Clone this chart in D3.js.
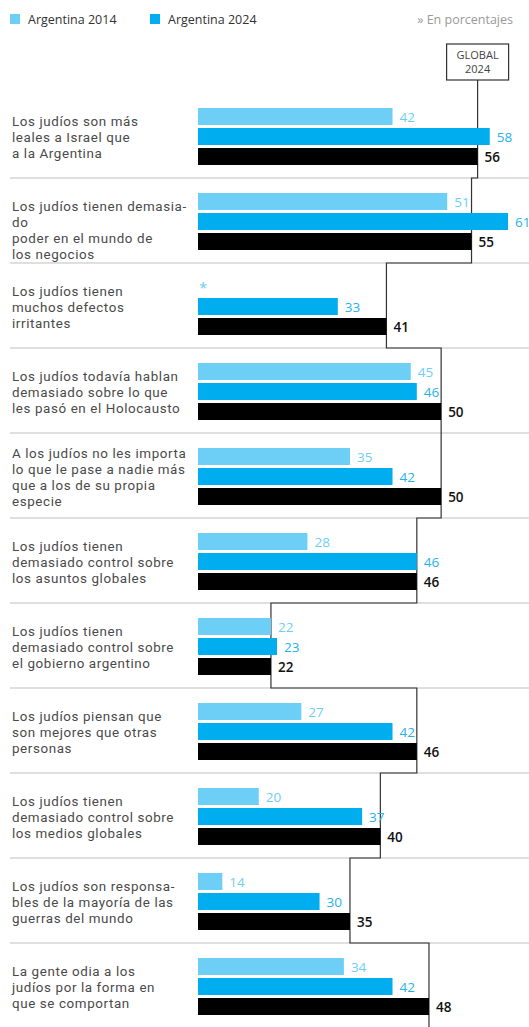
<!DOCTYPE html>
<html>
<head>
<meta charset="utf-8">
<script src="https://cdn.jsdelivr.net/npm/d3@7"></script>
<style>
  html, body { margin: 0; padding: 0; background: #fff; }
  svg { display: block; font-family: "Open Sans", "Noto Sans", sans-serif; }
</style>
</head>
<body>
<svg id="chart" width="529" height="1027"></svg>
<script>
const categories = [
  "Los judíos son más\nleales a Israel que\na la Argentina",
  "Los judíos tienen demasia-\ndo\npoder en el mundo de\nlos negocios",
  "Los judíos tienen\nmuchos defectos\nirritantes",
  "Los judíos todavía hablan\ndemasiado sobre lo que\nles pasó en el Holocausto",
  "A los judíos no les importa\nlo que le pase a nadie más\nque a los de su propia\nespecie",
  "Los judíos tienen\ndemasiado control sobre\nlos asuntos globales",
  "Los judíos tienen\ndemasiado control sobre\nel gobierno argentino",
  "Los judíos piensan que\nson mejores que otras\npersonas",
  "Los judíos tienen\ndemasiado control sobre\nlos medios globales",
  "Los judíos son responsa-\nbles de la mayoría de las\nguerras del mundo",
  "La gente odia a los\njudíos por la forma en\nque se comportan"
];
const argentina2014 = [42, 51, null, 45, 35, 28, 22, 27, 20, 14, 34];
const argentina2024 = [58, 61, 33, 46, 42, 46, 23, 42, 37, 30, 42];
const global2024    = [56, 55, 41, 50, 50, 46, 22, 46, 40, 35, 48];
const seriesNames = ["Argentina 2014", "Argentina 2024", "Global 2024"];
const legendLabels = ["Argentina 2014", "Argentina 2024"];
const noteText = "» En porcentajes";
const globalBoxLines = ["GLOBAL", "2024"];

const colors = { "Argentina 2014": "#6dcff6", "Argentina 2024": "#00aeef", "Global 2024": "#000000" };
const labelColors = { "Argentina 2014": "#6dcff6", "Argentina 2024": "#1fb3ea", "Global 2024": "#111111" };

const svg = d3.select("#chart");
const W = 529;

const rows = categories.map((c, i) => ({
  label: c, i,
  values: [argentina2014[i], argentina2024[i], global2024[i]]
}));

const y = d3.scaleBand().domain(d3.range(categories.length)).range([93, 93 + 85 * categories.length]).paddingInner(0);
const yi = d3.scaleBand().domain(seriesNames).range([15, 72]).paddingInner(0.15);
const x = d3.scaleLinear().domain([10, 61]).range([198, 508]);

// Legend
const leg = svg.append("g");
legendLabels.forEach((name, k) => {
  const gx = 10 + k * 140;
  leg.append("rect").attr("x", gx).attr("y", 14).attr("width", 10).attr("height", 10).attr("fill", colors[name]);
  leg.append("text").attr("x", gx + 18).attr("y", 23.5).attr("font-size", 12.5).attr("fill", "#333")
    .text(name);
});
svg.append("text").attr("x", 513).attr("y", 24).attr("text-anchor", "end").attr("font-size", 12.5)
  .attr("fill", "#9a9a9a").text(noteText);

// Separators
svg.append("g").selectAll("line").data(rows.slice(0, -1)).join("line")
  .attr("x1", 10).attr("x2", W)
  .attr("y1", d => y(d.i) + y.bandwidth()).attr("y2", d => y(d.i) + y.bandwidth())
  .attr("stroke", "#d4d4d4").attr("stroke-width", 1.5);

// Global step line
const boxCx = x(global2024[0]);
const boxTop = 44, boxBottom = 80;
const pts = [[boxCx, boxBottom]];
rows.forEach(r => {
  pts.push([x(global2024[r.i]), y(r.i)]);
  pts.push([x(global2024[r.i]), y(r.i) + y.bandwidth()]);
});
svg.append("path").attr("d", d3.line()(pts)).attr("fill", "none").attr("stroke", "#333").attr("stroke-width", 1.2);

// Global box
svg.append("rect").attr("x", boxCx - 31).attr("y", boxTop).attr("width", 62).attr("height", boxBottom - boxTop)
  .attr("fill", "#fff").attr("stroke", "#333").attr("stroke-width", 1.2);
globalBoxLines.forEach((t, k) => {
  svg.append("text").attr("x", boxCx).attr("y", 59 + k * 14).attr("text-anchor", "middle")
    .attr("font-size", 11).attr("fill", "#444").text(t);
});

// Rows
const g = svg.append("g").selectAll("g").data(rows).join("g")
  .attr("transform", d => `translate(0,${y(d.i)})`);

// Labels: one text element per line
g.each(function(d) {
  const lines = d.label.split("\n");
  const nCenter = lines.filter(l => l.length > 3).length;
  const first = y.bandwidth() / 2 - (nCenter - 1) * 8 + 6;
  const sel = d3.select(this);
  lines.forEach((l, k) => {
    sel.append("text").attr("x", 12).attr("y", first + k * 16)
      .attr("font-family", "Roboto, 'Open Sans', sans-serif")
      .attr("font-size", 13.4).attr("letter-spacing", 0.6).attr("fill", "#4a4a4a").text(l);
  });
});

// Bars
g.each(function(d) {
  const sel = d3.select(this);
  seriesNames.forEach((s, k) => {
    const v = d.values[k];
    const by = yi(s);
    if (v == null) {
      sel.append("text").attr("x", x.range()[0] + 1).attr("y", by + 15).attr("font-size", 15)
        .attr("fill", colors[s]).text("*");
      return;
    }
    sel.append("rect").attr("x", x.range()[0]).attr("y", by)
      .attr("width", x(v) - x.range()[0]).attr("height", yi.bandwidth()).attr("fill", colors[s]);
    sel.append("text").attr("x", x(v) + 7).attr("y", by + yi.bandwidth() / 2 + 5)
      .attr("font-size", 13.5).attr("font-weight", s === "Global 2024" ? 600 : 500)
      .attr("fill", labelColors[s]).text(v);
  });
});
</script>
</body>
</html>
